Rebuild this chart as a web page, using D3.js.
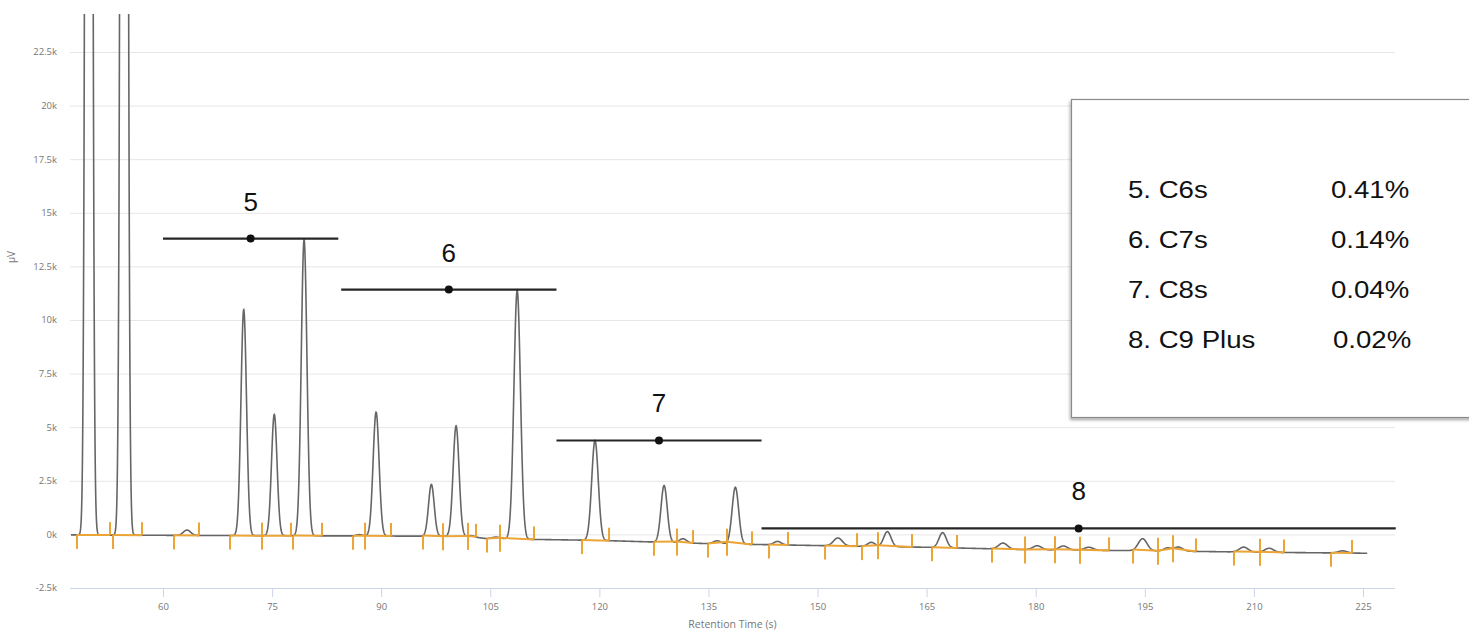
<!DOCTYPE html>
<html>
<head>
<meta charset="utf-8">
<script src="https://cdn.jsdelivr.net/npm/d3@7"></script>
<style>
  body { margin: 0; background: #fff; }
  svg { display: block; }
</style>
</head>
<body>
<svg id="chart"></svg>
<script>
// peak table (time s, height above baseline µV, sigma s)
const peakTimes   = [49.8, 54.65, 63.3, 71.1, 75.3, 79.4, 87.0, 89.3, 96.9, 100.3, 102.5, 105.8, 108.7,
                     119.4, 128.9, 131.5, 136.2, 138.7, 144.5, 152.8, 157.4, 159.6, 167.2, 175.5,
                     180.2, 183.8, 187.3, 194.7, 198.1, 199.6, 208.6, 212.1, 222.2];
const peakHeights = [150000, 150000, 250, 10540, 5660, 13810, 60, 5780, 2420, 5150, 50, 80, 11600,
                     4660, 2650, 190, 140, 2650, 160, 370, 190, 700, 700, 280,
                     190, 190, 140, 560, 140, 190, 230, 190, 100];
const peakWidths  = [0.32, 0.33, 0.5, 0.38, 0.38, 0.39, 0.4, 0.41, 0.39, 0.41, 0.4, 0.6, 0.45,
                     0.45, 0.43, 0.5, 0.5, 0.45, 0.5, 0.6, 0.5, 0.5, 0.5, 0.6,
                     0.6, 0.6, 0.6, 0.6, 0.5, 0.6, 0.6, 0.6, 0.6];

// drifting baseline
const baselineTimes  = [45, 65, 85, 102, 104.5, 120, 135, 150, 165, 180, 195, 210, 226];
const baselineValues = [-20, -50, -70, -90, -200, -280, -430, -520, -600, -720, -760, -830, -880];

// integration windows (orange marks)
const windowStarts = [48.17, 53.13, 61.51, 69.21, 73.61, 77.88, 86.13, 87.78, 95.75, 98.5, 101.94,
                      104.55, 106.34, 117.61, 127.51, 130.68, 134.94, 137.55, 143.33, 151.03, 156.11,
                      158.31, 165.74, 173.99, 178.53, 182.65, 186.09, 193.38, 196.81, 198.88, 207.26,
                      210.84, 220.6];
const windowEnds   = [52.71, 57.11, 64.95, 73.61, 77.6, 81.86, 87.78, 91.35, 98.5, 101.94, 103.04,
                      106.34, 111.01, 121.33, 130.68, 132.88, 137.55, 140.99, 145.94, 155.43, 158.31,
                      162.99, 169.18, 178.53, 182.65, 186.09, 190.08, 196.81, 198.88, 202.04, 210.84,
                      214.14, 223.49];

// group bars
const groupNames  = ["5", "6", "7", "8"];
const groupStarts = [60, 84.5, 114.1, 142.3];
const groupEnds   = [84.1, 114.1, 142.3, 229.5];
const groupLevels = [13800, 11420, 4380, 280];

const legendNames  = ["5. C6s", "6. C7s", "7. C8s", "8. C9 Plus"];
const legendValues = ["0.41%", "0.14%", "0.04%", "0.02%"];

const xTicks = [60, 75, 90, 105, 120, 135, 150, 165, 180, 195, 210, 225];
const yTicks = [-2500, 0, 2500, 5000, 7500, 10000, 12500, 15000, 17500, 20000, 22500];

const W = 1469, H = 630;
const plot = {left: 70, right: 1395, top: 14, bottom: 588};

const x = d3.scaleLinear().domain([60, 225]).range([163, 1363]);
const y = d3.scaleLinear().domain([-2500, 22500]).range([588, 52]);

const baseline = d3.scaleLinear().domain(baselineTimes).range(baselineValues).clamp(true);

function signal(t) {
    let v = baseline(t);
    for (let i = 0; i < peakTimes.length; i++) {
        const z = (t - peakTimes[i]) / peakWidths[i];
        v += peakHeights[i] * Math.exp(-0.5 * z * z);
    }
    return v;
}

const svg = d3.select('#chart')
    .attr('width', W)
    .attr('height', H)
    .style('font-family', '"Open Sans", "DejaVu Sans", sans-serif');

const defs = svg.append('defs');
defs.append('clipPath').attr('id', 'plotClip')
    .append('rect')
    .attr('x', plot.left).attr('y', plot.top)
    .attr('width', plot.right - plot.left).attr('height', plot.bottom - plot.top);

const shadow = defs.append('filter').attr('id', 'shadow')
    .attr('x', '-10%').attr('y', '-10%').attr('width', '130%').attr('height', '130%');
shadow.append('feDropShadow')
    .attr('dx', -1).attr('dy', 2).attr('stdDeviation', 1.5)
    .attr('flood-color', '#000').attr('flood-opacity', 0.35);

// gridlines
svg.append('g')
    .selectAll('line')
    .data(yTicks.slice(1))
    .join('line')
    .attr('x1', plot.left).attr('x2', plot.right)
    .attr('y1', d => y(d) + 0.5).attr('y2', d => y(d) + 0.5)
    .attr('stroke', '#e6e6e6');

// y axis labels
svg.append('g')
    .selectAll('text')
    .data(yTicks)
    .join('text')
    .attr('x', 57)
    .attr('y', d => y(d))
    .attr('dy', '0.35em')
    .attr('text-anchor', 'end')
    .attr('font-size', 9.5)
    .attr('fill', '#777')
    .text(d => (d / 1000) + 'k');

svg.append('text')
    .attr('transform', 'translate(15,257) rotate(-90)')
    .attr('text-anchor', 'middle')
    .attr('font-size', 10)
    .attr('fill', '#777')
    .text('µV');

// x axis
const xAxis = svg.append('g')
    .attr('transform', `translate(0,${plot.bottom})`)
    .call(d3.axisBottom(x).tickValues(xTicks).tickSize(9).tickPadding(6).tickSizeOuter(0));
xAxis.select('.domain').remove();
xAxis.selectAll('.tick line').attr('stroke', '#ccd6eb');
xAxis.selectAll('.tick text')
    .attr('font-size', 9.5)
    .attr('fill', '#777')
    .attr('font-family', '"Open Sans", "DejaVu Sans", sans-serif');
svg.append('line')
    .attr('x1', plot.left).attr('x2', plot.right)
    .attr('y1', plot.bottom + 0.5).attr('y2', plot.bottom + 0.5)
    .attr('stroke', '#ccd6eb');

svg.append('text')
    .attr('x', (plot.left + plot.right) / 2)
    .attr('y', 628)
    .attr('text-anchor', 'middle')
    .attr('font-size', 10.5)
    .attr('fill', '#777')
    .text('Retention Time (s)');

// chromatogram trace
const times = d3.range(47.35, 225.6, 0.03);
const line = d3.line()
    .x(t => x(t))
    .y(t => y(signal(t)));

svg.append('g')
    .attr('clip-path', 'url(#plotClip)')
    .append('path')
    .datum(times)
    .attr('d', line)
    .attr('fill', 'none')
    .attr('stroke', '#666')
    .attr('stroke-width', 1.6);

// integration marks
const orange = '#eca435';
const marks = svg.append('g')
    .attr('stroke', orange)
    .attr('stroke-width', 2);
const windows = windowStarts.map((s, i) => ({start: s, end: windowEnds[i]}));

marks.selectAll('.seg')
    .data(windows)
    .join('line')
    .attr('class', 'seg')
    .attr('x1', d => x(d.start)).attr('x2', d => x(d.end))
    .attr('y1', d => y(signal(d.start))).attr('y2', d => y(signal(d.end)));

marks.selectAll('.down')
    .data(windows)
    .join('line')
    .attr('class', 'down')
    .attr('x1', d => x(d.start)).attr('x2', d => x(d.start))
    .attr('y1', d => y(signal(d.start))).attr('y2', d => y(signal(d.start)) + 14);

marks.selectAll('.up')
    .data(windows)
    .join('line')
    .attr('class', 'up')
    .attr('x1', d => x(d.end)).attr('x2', d => x(d.end))
    .attr('y1', d => y(signal(d.end))).attr('y2', d => y(signal(d.end)) - 13);

// group bars
const groups = groupNames.map((name, i) => ({
    name, start: groupStarts[i], end: groupEnds[i], level: groupLevels[i],
    mid: (groupStarts[i] + groupEnds[i]) / 2
}));

const gb = svg.append('g');
gb.selectAll('line')
    .data(groups)
    .join('line')
    .attr('x1', d => x(d.start)).attr('x2', d => x(d.end))
    .attr('y1', d => y(d.level)).attr('y2', d => y(d.level))
    .attr('stroke', '#262626')
    .attr('stroke-width', 2.2);
gb.selectAll('circle')
    .data(groups)
    .join('circle')
    .attr('cx', d => x(d.mid))
    .attr('cy', d => y(d.level))
    .attr('r', 4)
    .attr('fill', '#111');
gb.selectAll('text')
    .data(groups)
    .join('text')
    .attr('x', d => x(d.mid))
    .attr('y', d => y(d.level) - 28)
    .attr('text-anchor', 'middle')
    .attr('font-family', '"Liberation Sans", Arial, sans-serif')
    .attr('font-size', 26)
    .attr('fill', '#111')
    .text(d => d.name);

// legend box
svg.append('rect')
    .attr('x', 1071.5).attr('y', 99.5)
    .attr('width', 430).attr('height', 318)
    .attr('fill', '#fff')
    .attr('stroke', '#8a8a8a')
    .attr('stroke-width', 1.2)
    .attr('filter', 'url(#shadow)');

const leg = svg.append('g')
    .attr('font-family', '"Liberation Sans", Arial, sans-serif')
    .attr('font-size', 24)
    .attr('fill', '#111');
leg.selectAll('.name')
    .data(legendNames)
    .join('text')
    .attr('class', 'name')
    .attr('transform', (d, i) => `translate(1128,${198 + i * 50}) scale(1.15,1)`)
    .text(d => d);
leg.selectAll('.val')
    .data(legendValues)
    .join('text')
    .attr('class', 'val')
    .attr('transform', (d, i) => `translate(${i === 3 ? 1333 : 1331},${198 + i * 50}) scale(1.15,1)`)
    .text(d => d);
</script>
</body>
</html>
